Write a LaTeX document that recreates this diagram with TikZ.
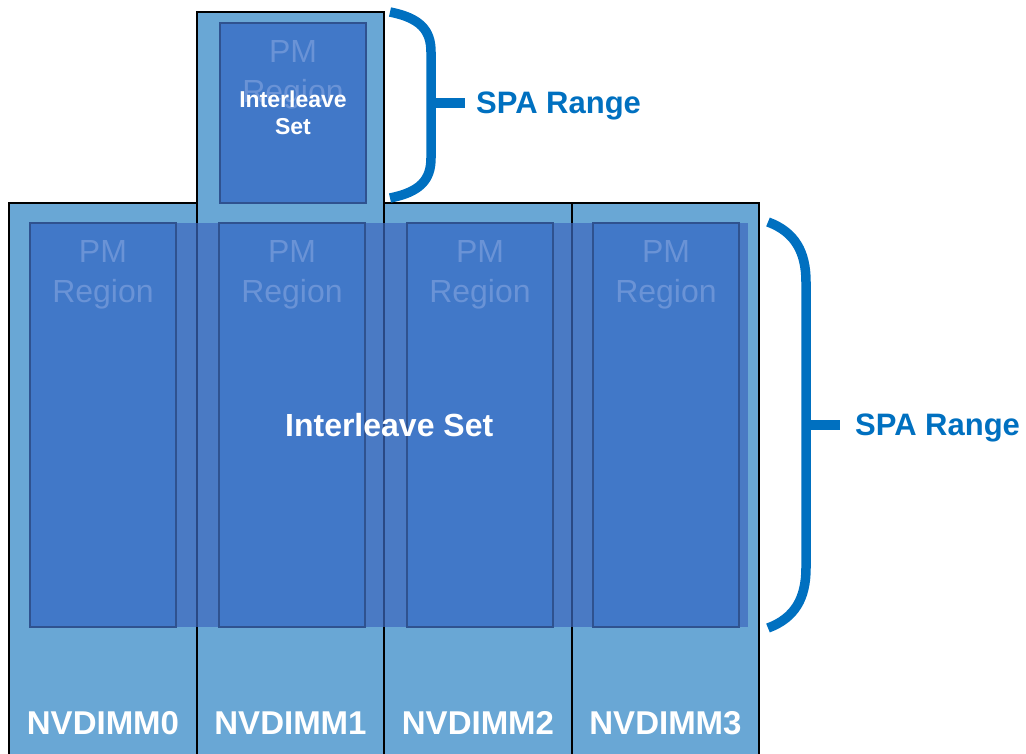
\documentclass[tikz,border=0pt]{standalone}
\usepackage{fontspec}
\setmainfont{Liberation Sans}
\usetikzlibrary{positioning}

\definecolor{dimmblue}{HTML}{69A7D5}
\definecolor{regionblue}{HTML}{4178C8}
\definecolor{regionline}{HTML}{2F528F}
\definecolor{fadedtext}{HTML}{6A93D6}
\definecolor{setblue}{HTML}{3D68BD}
\definecolor{spablue}{HTML}{0070C0}

\tikzset{
  dimm/.style={draw=black, line width=1.5pt, fill=dimmblue, anchor=north west,
    minimum width=188pt, minimum height=560pt, inner sep=0pt, outer sep=0pt},
  region/.style={draw=regionline, line width=1.2pt, fill=regionblue, anchor=north west,
    minimum width=146pt, minimum height=404pt, inner sep=0pt, outer sep=0pt},
  setband/.style={fill=setblue, fill opacity=0.7, anchor=north west,
    minimum width=718pt, minimum height=404pt, inner sep=0pt},
  pmtext/.style={text=fadedtext, align=center, inner sep=0pt,
    font=\fontsize{32}{40}\selectfont},
  settext/.style={text=white, align=center, font=\bfseries\fontsize{32}{38}\selectfont},
  smallset/.style={text=white, align=center, font=\bfseries\fontsize{23}{27}\selectfont},
  dimmlabel/.style={text=white, inner sep=0pt, font=\bfseries\fontsize{33}{38}\selectfont},
  spalabel/.style={text=spablue, anchor=west, inner sep=0pt,
    font=\bfseries\fontsize{31}{36}\selectfont},
  brace/.style={draw=spablue, line width=9.5pt},
}

\begin{document}
\begin{tikzpicture}[x=1pt, y=-1pt]
    \useasboundingbox (0,0) rectangle (1026,753);

    % NVDIMM columns
    \node[dimm] (D0) at (9,203) {};
    \node[dimm] (D2) at (384,203) {};
    \node[dimm, minimum width=187pt] (D3) at (572,203) {};
    \node[dimm, minimum width=187pt, minimum height=751pt] (D1) at (197,12) {};

    % interleave set across the four dimms
    \node[setband] (SetBig) at (30,223) {};

    % PM regions
    \node[region] (R0) at (30,223) {};
    \node[region] (R1) at (219,223) {};
    \node[region] (R2) at (407,223) {};
    \node[region] (R3) at (593,223) {};
    \node[region, minimum height=180pt] (RT) at (220,23) {};

    \node[pmtext, below=17pt of R0.north] (PM0) {PM\\Region};
    \node[pmtext, below=17pt of R1.north] (PM1) {PM\\Region};
    \node[pmtext, below=17pt of R2.north] (PM2) {PM\\Region};
    \node[pmtext, below=17pt of R3.north] (PM3) {PM\\Region};
    \node[pmtext, below=17pt of RT.north] (PMT) {PM\\Region};

    \node[settext] (SetBigText) at (SetBig.center) {Interleave Set};
    \node[smallset] (SetTopText) at (RT.center) {Interleave\\Set};

    % dimm labels
    \coordinate (labelrow) at (0,723);
    \node[dimmlabel] (L0) at (D0 |- labelrow) {NVDIMM0};
    \node[dimmlabel] (L1) at (D1 |- labelrow) {NVDIMM1};
    \node[dimmlabel] (L2) at (D2 |- labelrow) {NVDIMM2};
    \node[dimmlabel] (L3) at (D3 |- labelrow) {NVDIMM3};

    % SPA ranges
    \node[spalabel] (SPATop) at (476,106) {SPA Range};
    \node[spalabel] (SPABig) at (855,428) {SPA Range};

    \coordinate (TopTick) at (431,103);
    \draw[brace] (390,12) .. controls (420,18) and (431,30) .. (431,52)
        -- (431,158) .. controls (431,180) and (420,192) .. (390,198);
    \draw[brace] (TopTick) -- (465,103);

    \coordinate (BigTick) at (806,425);
    \draw[brace] (768,222) .. controls (795,232) and (806,252) .. (806,282)
        -- (806,568) .. controls (806,598) and (795,618) .. (768,628);
    \draw[brace] (BigTick) -- (840,425);
\end{tikzpicture}
\end{document}
